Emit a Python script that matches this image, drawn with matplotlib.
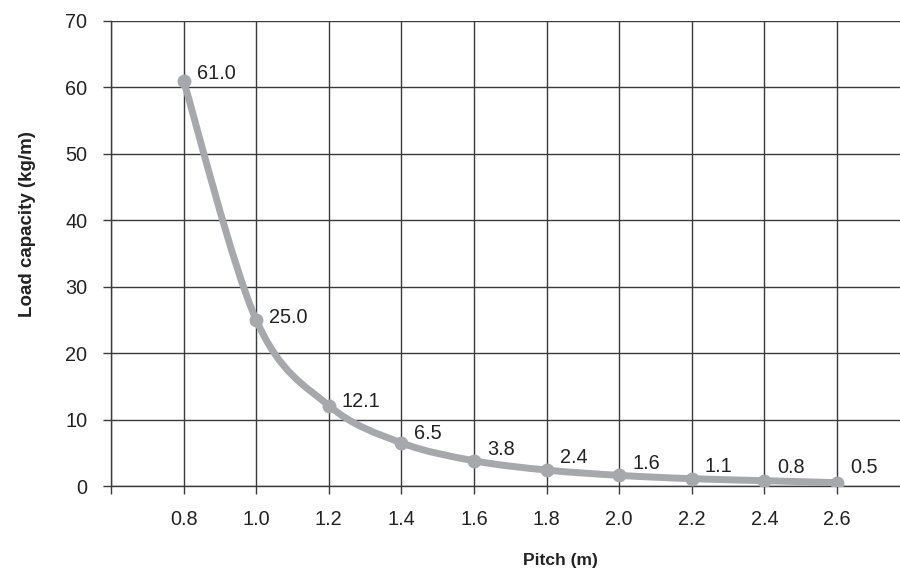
import matplotlib
matplotlib.use("Agg")
import matplotlib.pyplot as plt
from matplotlib.path import Path
from matplotlib.patches import PathPatch
import numpy as np

# Datos
pitch = [0.8, 1.0, 1.2, 1.4, 1.6, 1.8, 2.0, 2.2, 2.4, 2.6]
load = [61.0, 25.0, 12.1, 6.5, 3.8, 2.4, 1.6, 1.1, 0.8, 0.5]
etiquetas = ["61.0", "25.0", "12.1", "6.5", "3.8", "2.4", "1.6", "1.1", "0.8", "0.5"]
x_ticks = [0.6, 0.8, 1.0, 1.2, 1.4, 1.6, 1.8, 2.0, 2.2, 2.4, 2.6]
x_tick_labels = ["", "0.8", "1.0", "1.2", "1.4", "1.6", "1.8", "2.0", "2.2", "2.4", "2.6"]
y_ticks = [0, 10, 20, 30, 40, 50, 60, 70]

# desplazamiento vertical (px) de cada etiqueta respecto a su punto
label_dy = [2, -3, -1, 4, 6, 7, 6, 7, 8, 10]

plt.rcParams["font.family"] = ["Liberation Sans", "DejaVu Sans"]

gris = "#a7a8ab"
grid_color = "#3a3a3a"
texto = "#222222"

fig = plt.figure(figsize=(9, 5.74), dpi=100)
ax = fig.add_axes([111 / 900, 88 / 574, 1 - 111 / 900, (486 - 21) / 574])

ax.set_xlim(0.6, 0.6 + (900 - 111) / 363)
ax.set_ylim(0, 70)

# Linea suavizada (Catmull-Rom -> Bezier), como la linea suave de Excel
pts = np.column_stack([pitch, load])
verts = [tuple(pts[0])]
codes = [Path.MOVETO]
n = len(pts)
for i in range(n - 1):
    p0 = pts[i - 1] if i > 0 else pts[i]
    p1 = pts[i]
    p2 = pts[i + 1]
    p3 = pts[i + 2] if i + 2 < n else pts[i + 1]
    c1 = p1 + (p2 - p0) / 6
    c2 = p2 - (p3 - p1) / 6
    verts += [tuple(c1), tuple(c2), tuple(p2)]
    codes += [Path.CURVE4, Path.CURVE4, Path.CURVE4]
ax.add_patch(PathPatch(Path(verts, codes), facecolor="none", edgecolor=gris,
                       lw=5, capstyle="round", zorder=3))
ax.plot(pitch, load, "o", color=gris, markersize=9, zorder=4)

for x, y, t, dy in zip(pitch, load, etiquetas, label_dy):
    ax.annotate(t, (x, y), xytext=(13, dy), textcoords="offset pixels",
                ha="left", va="baseline", fontsize=14.3, color=texto, zorder=5)

ax.set_xticks(x_ticks)
ax.set_xticklabels(x_tick_labels)
ax.set_yticks(y_ticks)
ax.tick_params(axis="both", labelsize=14.3, colors=texto, length=6,
               width=1, color=grid_color, direction="out")
ax.tick_params(axis="x", pad=11)
ax.tick_params(axis="y", pad=11)

ax.grid(True, color=grid_color, lw=1)
ax.set_axisbelow(True)
for s in ["top", "right"]:
    ax.spines[s].set_visible(False)
for s in ["left", "bottom"]:
    ax.spines[s].set_color(grid_color)
    ax.spines[s].set_linewidth(1)

ax.set_xlabel("Pitch (m)", fontsize=12.6, fontweight="bold", color=texto, va="center")
ax.xaxis.set_label_coords((560 - 111) / (900 - 111), -(560 - 486) / 465)
ax.set_ylabel("Load capacity (kg/m)", fontsize=13.5, fontweight="bold", color=texto, va="center")
ax.yaxis.set_label_coords(-(111 - 28) / (900 - 111), (486 - 224) / 465)

fig.savefig("out.png", dpi=100)
plt.close(fig)
